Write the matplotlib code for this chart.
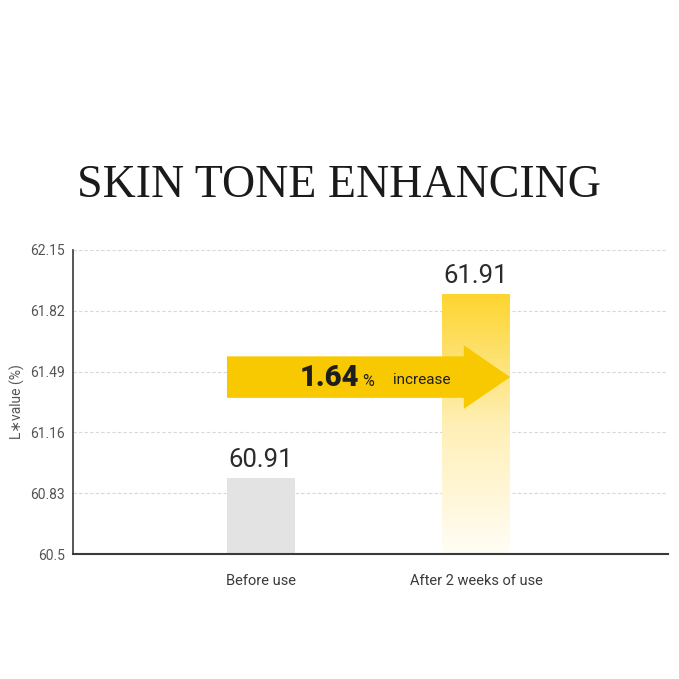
import numpy as np
import matplotlib
matplotlib.use("Agg")
import matplotlib.pyplot as plt
from matplotlib.patches import FancyArrow
from matplotlib.colors import LinearSegmentedColormap

# Data
categories = ["Before use", "After 2 weeks of use"]
values = [60.91, 61.91]
y_ticks = [60.5, 60.83, 61.16, 61.49, 61.82, 62.15]
increase_pct = 1.64

plt.rcParams["font.family"] = ["Roboto", "DejaVu Sans"]

fig = plt.figure(figsize=(6.79, 6.79), dpi=100)
ax = fig.add_axes([0.1075, 0.184, 0.8765, 0.448])

x = np.arange(len(categories))
width = 0.316
y0 = y_ticks[0]

# Before bar (flat grey)
ax.bar(x[0], values[0] - y0, bottom=y0, width=width, color="#e3e3e3", zorder=2)

# After bar (yellow fading to white)
grad = np.linspace(0, 1, 256).reshape(-1, 1)
cmap = LinearSegmentedColormap.from_list("fade", ["#fffdf5", "#ffefb5", "#fdd530"])
ax.imshow(grad, cmap=cmap, origin="lower", aspect="auto",
          extent=[x[1] - width / 2, x[1] + width / 2, y0, values[1]], zorder=2)

# value labels
for xi, v in zip(x, values):
    ax.text(xi, v + 0.035, f"{v:.2f}", ha="center", va="bottom",
            fontsize=18.5, color="#2b2b2b", zorder=5)

# arrow showing the increase
y_arrow = 61.46
ax.add_patch(FancyArrow(x[0] - width / 2, y_arrow, (x[1] + width / 2) - (x[0] - width / 2), 0,
                        width=0.225, head_width=0.345, head_length=0.215,
                        length_includes_head=True, color="#f8c800", lw=0, zorder=4))
ax.text(0.18, y_arrow - 0.005, f"{increase_pct:.2f}", ha="left", va="center",
        fontsize=21, fontweight="black", color="#1e1e1e", zorder=5)
ax.text(0.468, y_arrow - 0.025, "%", ha="left", va="center",
        fontsize=11.5, color="#1e1e1e", zorder=5)
ax.text(0.615, y_arrow - 0.018, "increase", ha="left", va="center",
        fontsize=11, color="#1e1e1e", zorder=5)

ax.set_xlim(-0.874, 1.893)
ax.set_ylim(y_ticks[0], y_ticks[-1])
ax.set_yticks(y_ticks)
ax.set_yticklabels([f"{t:g}" for t in y_ticks], fontsize=10, color="#555555")
ax.set_xticks(x)
ax.set_xticklabels(categories, fontsize=10.5, color="#3a3a3a")
ax.tick_params(axis="both", length=0)
ax.tick_params(axis="x", pad=14)
ax.tick_params(axis="y", pad=6)
ax.grid(axis="y", color="#d8d8d8", linestyle=(0, (3, 2)), linewidth=0.8, zorder=0)
ax.set_axisbelow(True)

for s in ["top", "right"]:
    ax.spines[s].set_visible(False)
ax.spines["left"].set_color("#3a3a3a")
ax.spines["bottom"].set_color("#3a3a3a")
ax.spines["left"].set_linewidth(1.2)
ax.spines["bottom"].set_linewidth(1.5)

ax.set_ylabel("L\u2217value (%)", fontsize=10, color="#555555")
ax.yaxis.set_label_coords(-0.08, 0.5)

fig.text(0.499, 0.727, "SKIN TONE ENHANCING", ha="center", va="center",
         fontsize=33, family=["Liberation Serif", "DejaVu Serif"], color="#1a1a1a")

fig.savefig("out.png", dpi=100, facecolor="white")
